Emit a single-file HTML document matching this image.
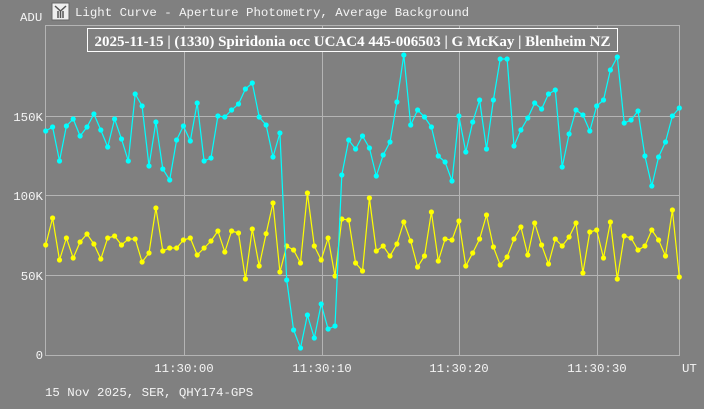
<!DOCTYPE html>
<html><head><meta charset="utf-8"><style>
html,body{margin:0;padding:0;background:#808080;}
svg{display:block}
.m{font-family:"Liberation Mono","DejaVu Sans Mono",monospace;font-size:12.4px;fill:#f4f4f4}
</style></head><body>
<svg id="s" width="704" height="409" xmlns="http://www.w3.org/2000/svg">
<rect width="704" height="409" fill="#808080"/>
<g stroke="#b4b4b4" stroke-width="1" fill="none">
<rect x="45.5" y="25.5" width="634" height="330"/>
<line x1="45" y1="116.5" x2="679" y2="116.5"/>
<line x1="45" y1="195.5" x2="679" y2="195.5"/>
<line x1="45" y1="275.5" x2="679" y2="275.5"/>
<line x1="184.5" y1="25" x2="184.5" y2="355"/>
<line x1="322.5" y1="25" x2="322.5" y2="355"/>
<line x1="459.5" y1="25" x2="459.5" y2="355"/>
<line x1="597.5" y1="25" x2="597.5" y2="355"/>
</g>
<rect x="52" y="3" width="17" height="17" fill="#eee" stroke="#666"/>
<path d="M55 6 L60.5 11 L66 6 M58 11 V18 M63 11 V18 M60.5 11 V18" stroke="#555" stroke-width="1.5" fill="none"/>
<text class="m" x="75" y="16">Light Curve - Aperture Photometry, Average Background</text>
<text class="m" x="20" y="21">ADU</text>
<g class="m" text-anchor="end">
<text x="43" y="121">150K</text><text x="43" y="200">100K</text><text x="43" y="280">50K</text><text x="43" y="359">0</text>
</g>
<g class="m" text-anchor="middle">
<text x="184" y="372">11:30:00</text><text x="322" y="372">11:30:10</text><text x="459" y="372">11:30:20</text><text x="597" y="372">11:30:30</text>
</g>
<text class="m" x="682" y="372">UT</text>
<text class="m" x="45" y="396">15 Nov 2025, SER, QHY174-GPS</text>
<rect x="87.5" y="28.5" width="530" height="23" fill="#808080" stroke="#fff"/>
<text x="352.5" y="46" text-anchor="middle" font-family="Liberation Serif,serif" font-weight="bold" font-size="15" fill="#fff" textLength="516" lengthAdjust="spacingAndGlyphs">2025-11-15 | (1330) Spiridonia occ UCAC4 445-006503 | G McKay | Blenheim NZ</text>
<g id="d"></g>
</svg>
<script>
var c=[131,127,161,126,119,136,127,114,130,147,119,139,161,94,106,166,122,169,180,140,126,141,103,161,158,116,117,110,104,89,83,117,
125,157,133,280,330,348,315,338,304,329,326,175,140,149,136,148,176,155,142,102,55,125,110,117,127,156,162,181,116,152,
122,100,149,100,59,59,146,130,118,103,109,94,90,167,134,110,115,131,106,100,70,57,123,120,111,156,186,157,142,116,108];
var y=[245,218,260,238,258,242,234,244,259,238,236,245,239,239,262,253,208,251,248,248,240,238,255,248,241,231,252,231,233,279,229,266,
233.7,203,272,246,250,263,193,246,260,238,276,219,220,263,271,198,251,246,256,244,222,241,267,256,212,261,239,240,221,266,
253,239,215,247,265,257,239,227,255,223,245,264,239,246,237,223,273,232,230,258,222,279,236,238,250,246,230,240,256,210,277];
var g=document.getElementById('d'),h='';
function ser(a,col){var p=a.map(function(v,i){return (45.7+i*6.887).toFixed(1)+','+v}).join(' ');
h+='<polyline points="'+p+'" fill="none" stroke="'+col+'" stroke-width="1.2"/>';
a.forEach(function(v,i){h+='<circle cx="'+(45.7+i*6.887).toFixed(1)+'" cy="'+v+'" r="2.6" fill="'+col+'"/>';});}
ser(y,'#ffff00');ser(c,'#00ffff');
g.innerHTML=h;
</script>
</body></html>
